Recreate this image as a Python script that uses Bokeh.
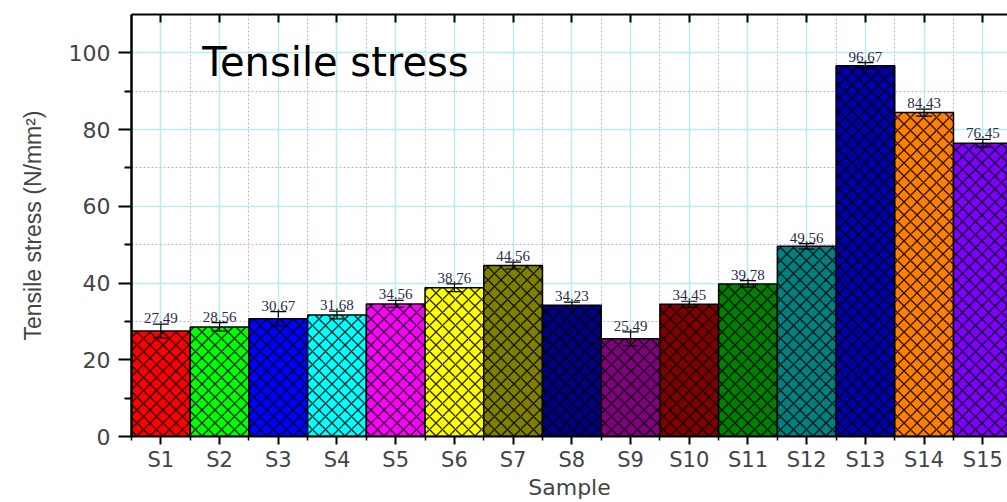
from bokeh.plotting import figure
from bokeh.models import (ColumnDataSource, Range1d, FixedTicker, LinearAxis,
                          Whisker, TeeHead, Label)
from bokeh.embed import file_html
from bokeh.resources import INLINE
from bokeh.core.properties import value

samples = ["S1", "S2", "S3", "S4", "S5", "S6", "S7", "S8", "S9", "S10",
           "S11", "S12", "S13", "S14", "S15"]
stress = [27.49, 28.56, 30.67, 31.68, 34.56, 38.76, 44.56, 34.23, 25.49,
          34.45, 39.78, 49.56, 96.67, 84.43, 76.45]
errors = [1.8, 1.1, 1.9, 1.0, 0.9, 1.0, 0.9, 0.8, 1.8, 0.8, 0.85, 0.7, 0.8,
          0.9, 1.0]
colors = ["#ff0000", "#00ff00", "#0000ff", "#00ffff", "#ff00ff", "#ffff00",
          "#808000", "#000080", "#800080", "#800000", "#008000", "#008080",
          "#0000a8", "#ff8000", "#8000ff"]
y_major = [0, 20, 40, 60, 80, 100]
y_minor = [10, 30, 50, 70, 90]

xs = list(range(1, len(samples) + 1))
src = ColumnDataSource(dict(
    x=xs, top=stress, color=colors,
    upper=[s + e for s, e in zip(stress, errors)],
    lower=[s - e for s, e in zip(stress, errors)],
    label=[f"{s:.2f}" for s in stress],
))

p = figure(width=1007, height=502, output_backend="svg", toolbar_location=None,
           x_range=Range1d(0.5, 15.42), y_range=Range1d(0, 110),
           min_border_left=131, min_border_right=0, min_border_top=14,
           min_border_bottom=66)
p.outline_line_color = None
p.background_fill_color = "white"

xt = FixedTicker(ticks=xs, minor_ticks=[x - 0.5 for x in xs] + [xs[-1] + 0.5])
yt = FixedTicker(ticks=y_major, minor_ticks=y_minor)

# grids
p.xgrid.ticker = xt
p.ygrid.ticker = yt
for g in (p.xgrid[0], p.ygrid[0]):
    g.grid_line_color = "#b4eeee"
    g.grid_line_width = 1.5
    g.minor_grid_line_color = "#d6a8d6"
    g.minor_grid_line_dash = "2 2"
    g.minor_grid_line_width = 1

# bars
p.vbar(x="x", top="top", width=1.0, bottom=0, source=src,
       fill_color="color", line_color="black", line_width=1.5,
       hatch_pattern="diagonal_cross", hatch_scale=13, hatch_weight=1.3,
       hatch_color="black", hatch_alpha=0.85)

# error bars
wh = Whisker(base="x", upper="upper", lower="lower", source=src,
             line_color="black", line_width=1.2, level="overlay",
             upper_head=TeeHead(size=16, line_color="black", line_width=1.2),
             lower_head=TeeHead(size=16, line_color="black", line_width=1.2))
p.add_layout(wh)

# value labels
p.text(x="x", y="upper", text="label", source=src, text_align="center",
       text_baseline="bottom", y_offset=-1,
       text_font=value("Liberation Serif"), text_font_size="15px",
       text_color="#2b2b4b")

# in-plot title
p.add_layout(Label(x=3.975, y=97.7, text="Tensile stress", text_align="center",
                   text_baseline="middle", text_font="DejaVu Sans",
                   text_font_size="40px", text_color="black"))

# bottom axis
xa = p.xaxis[0]
xa.ticker = xt
xa.major_label_overrides = {x: s for x, s in zip(xs, samples)}
xa.axis_label = "Sample"
xa.axis_label_text_font = "DejaVu Sans"
xa.axis_label_text_font_size = "22px"
xa.axis_label_text_font_style = "normal"
xa.axis_label_standoff = 0
xa.major_label_text_font = "DejaVu Sans"
xa.major_label_text_font_size = "21px"
xa.major_label_standoff = 3
xa.major_tick_out = 8
xa.major_tick_in = 0
xa.minor_tick_out = 4
xa.minor_tick_in = 0
xa.axis_line_width = 2
xa.major_tick_line_width = 2
xa.minor_tick_line_width = 1.5

# left axis
ya = p.yaxis[0]
ya.ticker = yt
ya.axis_label = "Tensile stress (N/mm²)"
ya.axis_label_text_font = "Liberation Sans"
ya.axis_label_text_font_size = "23px"
ya.axis_label_text_font_style = "normal"
ya.axis_label_standoff = 20
ya.major_label_text_font = "DejaVu Sans"
ya.major_label_text_font_size = "22px"
ya.major_label_standoff = 8
ya.major_tick_out = 13
ya.major_tick_in = 0
ya.minor_tick_out = 7
ya.minor_tick_in = 0
ya.axis_line_width = 2.5
ya.major_tick_line_width = 2
ya.minor_tick_line_width = 2

# top axis with inward ticks (no labels)
ta = LinearAxis(ticker=FixedTicker(ticks=xs), major_tick_in=8, major_tick_out=0,
                minor_tick_in=0, minor_tick_out=0,
                major_label_text_font_size="0px",
                major_label_text_color=None, major_label_standoff=0,
                axis_line_width=2, major_tick_line_width=2)
p.add_layout(ta, "above")

open("out.html", "w").write(file_html(p, INLINE))
